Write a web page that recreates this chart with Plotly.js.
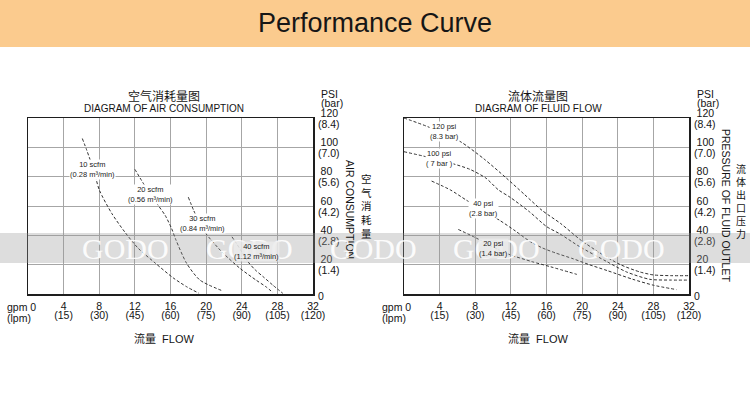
<!DOCTYPE html>
<html>
<head>
<meta charset="utf-8">
<script src="https://cdn.plot.ly/plotly-3.0.1.min.js"></script>
<style>
html,body{margin:0;padding:0;background:#fff}
#chart{width:750px;height:400px}
</style>
</head>
<body>
<div id="chart"></div>
<script>
// ---------- data ----------
const gpmTicks = [0, 4, 8, 12, 16, 20, 24, 28, 32];
const lpmTicks = [0, 15, 30, 45, 60, 75, 90, 105, 120];
const psiTicks = [0, 20, 40, 60, 80, 100, 120];
const barTicks = ["0", "1.4", "2.8", "4.2", "5.6", "7.0", "8.4"];

// Air consumption curves (x: gpm, y: psi)
const air10X = [6.1, 6.6, 7.4, 8.0, 9.4, 10.9, 12.4, 14.3, 16.3, 17.8, 19.2];
const air10Y = [106, 98, 84, 71, 55, 42, 31, 21, 11, 5, 0.5];
const air20X = [12.0, 13.1, 14.0, 14.6, 15.4, 16.1, 16.6, 17.8, 19.3, 21.9];
const air20Y = [85, 74, 66, 60.6, 53.6, 45, 37, 21, 9.5, 2];
const air30X = [18.0, 18.6, 19.3, 20.0, 21.8, 23.8, 25.6, 26.7, 27.5];
const air30Y = [66, 57, 48, 41, 28.5, 17.5, 9.5, 5, 1];
const air40X = [22.9, 23.4, 24.0, 24.7, 25.5, 26.4, 27.5, 28.6];
const air40Y = [39, 34.5, 28.8, 22, 16.5, 11.8, 6, 0.5];
const airNames = ["10 scfm", "20 scfm", "30 scfm", "40 scfm"];
const airSub = ["(0.28 m³/min)", "(0.56 m³/min)", "(0.84 m³/min)", "(1.12 m³/min)"];

// Fluid flow curves (x: gpm, y: psi outlet)
const f120X = [0, 2.7, 6.3, 9.0, 11.5, 13.5, 15.5, 17.6, 19.8, 22.0, 24.3, 26.5, 28.0, 30.0, 32.0];
const f120Y = [120, 114, 104, 92, 79, 68, 57, 48, 37, 28, 20, 15, 13, 12.5, 12.5];
const f100X = [0, 2.2, 5.4, 7.4, 9.2, 10.6, 11.9, 14.1, 16.0, 17.5, 19.8, 22.8, 25.0, 27.6, 30.0, 32.0];
const f100Y = [97, 94, 89, 85, 79, 71, 66, 56, 46, 41, 32, 22, 15, 10, 9.5, 9.5];
const f40X = [3.1, 5.2, 7.0, 8.9, 10.8, 12.5, 14.1, 15.5, 17.0, 19.0, 20.8, 22.8, 25.7, 28.0, 30.6];
const f40Y = [77, 71, 64, 57, 50, 43, 36, 31.5, 28, 24, 20, 16, 10, 6, 3];
const f20X = [6.1, 8.0, 10.0, 11.8, 14.4, 16.5, 19.4];
const f20Y = [44, 38.5, 32, 27, 22, 18.5, 13.4];
const fluidNames = ["120 psi", "100 psi", "40 psi", "20 psi"];
const fluidSub = ["(8.3 bar)", "( 7 bar )", "(2.8 bar)", "(1.4 bar)"];

// ---------- layout helpers ----------
const W = 750, H = 400;
const PX = x => x / W;
const PY = y => 1 - y / H;
const SANS = "Liberation Sans, Arial, sans-serif";
const CJK = "Noto Sans CJK SC, sans-serif";
const INK = "#141414";

const lineStyle = {color: "#303030", width: 1, dash: "3px,2px", shape: "spline", smoothing: 0.7};
function curve(x, y, xa, ya) {
  return {x, y, xaxis: xa, yaxis: ya, type: "scatter", mode: "lines", line: lineStyle, hoverinfo: "skip", showlegend: false};
}
function empty(xa, ya) {
  return {x: [], y: [], xaxis: xa, yaxis: ya, type: "scatter", mode: "lines", showlegend: false, hoverinfo: "skip"};
}

const traces = [
  curve(air10X, air10Y, "x", "y"),
  curve(air20X, air20Y, "x", "y"),
  curve(air30X, air30Y, "x", "y"),
  curve(air40X, air40Y, "x", "y"),
  curve(f120X, f120Y, "x2", "y2"),
  curve(f100X, f100Y, "x2", "y2"),
  curve(f40X, f40Y, "x2", "y2"),
  curve(f20X, f20Y, "x2", "y2"),
  empty("x3", "y3"),
  empty("x4", "y4"),
  empty("x", "y5"),
  empty("x2", "y6")
];

const tickFont = {family: SANS, size: 10.5, color: INK};
const gridCol = "#a6a6a6";

// gpm row (main x axes)
function xAxis(domain, anchor) {
  return {
    domain, anchor, range: [0, 32], tickmode: "array", tickvals: gpmTicks.slice(1), ticktext: gpmTicks.slice(1).map(String),
    showgrid: true, gridcolor: gridCol, gridwidth: 1, showline: true, mirror: true,
    linecolor: "#1e1e1e", linewidth: 1.5, zeroline: false, ticks: "", ticklabelstandoff: 2,
    tickfont: tickFont, fixedrange: true
  };
}
// lpm row (overlay x axes)
function xAxisLpm(domain, anchor, over) {
  return {
    domain, anchor, overlaying: over, range: [0, 32], tickmode: "array", tickvals: gpmTicks.slice(1),
    ticktext: lpmTicks.slice(1).map(v => "(" + v + ")"),
    showgrid: false, showline: false, zeroline: false, ticks: "", ticklabelstandoff: 13,
    tickfont: tickFont, fixedrange: true
  };
}
// psi row (main y axes)
function yAxis(domain, anchor) {
  return {
    domain, anchor, side: "right", range: [0, 120], tickmode: "array", tickvals: psiTicks.slice(1),
    ticktext: psiTicks.slice(1).map(String),
    showgrid: true, gridcolor: gridCol, gridwidth: 1, showline: true, mirror: true,
    linecolor: "#1e1e1e", linewidth: 1.5, zeroline: false, ticks: "", ticklabelstandoff: 4, ticklabelshift: -5,
    tickfont: tickFont, fixedrange: true
  };
}
// bar row (overlay y axes)
function yAxisBar(domain, anchor, over) {
  return {
    domain, anchor, overlaying: over, side: "right", range: [0, 120], tickmode: "array", tickvals: psiTicks.slice(1),
    ticktext: barTicks.slice(1).map(b => "(" + b + ")"),
    showgrid: false, showline: false, zeroline: false, ticks: "", ticklabelstandoff: 4, ticklabelshift: 6,
    tickfont: tickFont, fixedrange: true
  };
}
// zero label (overlay y axes)
function yAxisZero(domain, anchor, over) {
  return {
    domain, anchor, overlaying: over, side: "right", range: [0, 120], tickmode: "array", tickvals: [psiTicks[0]],
    ticktext: [String(psiTicks[0])],
    showgrid: false, showline: false, zeroline: false, ticks: "", ticklabelstandoff: 4, ticklabelshift: 2,
    tickfont: tickFont, fixedrange: true
  };
}

const yDom = [PY(294), PY(118)];
const xDomL = [PX(28), PX(313)];
const xDomR = [PX(404), PX(689)];
const ann = [];
function paperText(text, x, y, size, opts) {
  ann.push(Object.assign({text, xref: "paper", yref: "paper", x: PX(x), y: PY(y), showarrow: false,
    xanchor: "center", yanchor: "middle", font: {family: SANS, size, color: INK}}, opts || {}));
}

// chart titles
paperText("空气消耗量图", 164, 95, 12, {font: {family: CJK, size: 12, color: INK}});
paperText("DIAGRAM OF AIR CONSUMPTION", 164, 109, 10);
paperText("流体流量图", 538, 95, 12, {font: {family: CJK, size: 12, color: INK}});
paperText("DIAGRAM OF FLUID FLOW", 538, 109, 10);
// unit headers
[319, 695].forEach(x => {
  paperText("PSI", x, 94, 10.5, {xanchor: "left"});
  paperText("(bar)", x, 103, 10.5, {xanchor: "left"});
});
// x axis zero labels
[5, 380].forEach(x => {
  paperText("gpm " + gpmTicks[0], x, 307, 10.5, {xanchor: "left"});
  paperText("(lpm)", x, 318, 10.5, {xanchor: "left"});
});
// side titles
paperText("AIR CONSUMPTION", 350, 209, 10.5, {textangle: 90});
paperText("空<br>气<br>消<br>耗<br>量", 366, 206, 10.5, {font: {family: CJK, size: 10.5, color: INK}});
paperText("PRESSURE OF FLUID OUTLET", 726, 205, 10.5, {textangle: 90});
paperText("流<br>体<br>出<br>口<br>压<br>力", 741, 201, 10, {font: {family: CJK, size: 10, color: INK}});
// flow titles
const flowFont = {family: "Liberation Sans, Noto Sans CJK SC, sans-serif", size: 11, color: INK};
paperText("流量  FLOW", 164, 338, 11, {font: flowFont});
paperText("流量  FLOW", 538, 338, 11, {font: flowFont});

// watermark text
[125, 249, 373, 497, 621].forEach(cx => {
  paperText("GODO", cx, 248, 30, {font: {family: "Liberation Serif, DejaVu Serif, serif", size: 30, color: "rgba(255,255,255,0.92)"}});
});

// curve labels
const airLabelAt = [[7.2, 85], [13.8, 67.5], [19.6, 48], [25.6, 28.8]];
const fluidLabelAt = [[4.5, 110.7], [4.0, 92.5], [8.9, 58.4], [10.1, 31]];
function curveLabel(name, sub, pos, xa, ya, inBand) {
  ann.push({text: name + "<br>" + sub, xref: xa, yref: ya, x: pos[0], y: pos[1], showarrow: false,
    xanchor: "center", yanchor: "middle", font: {family: SANS, size: 7.5, color: "#1a1a1a"},
    bgcolor: inBand ? "rgba(235,235,235,0.85)" : "#ffffff", borderpad: 0});
}
airNames.forEach((n, i) => curveLabel(n, airSub[i], airLabelAt[i], "x", "y", i === 3));
fluidNames.forEach((n, i) => curveLabel(n, fluidSub[i], fluidLabelAt[i], "x2", "y2", i === 3));

const layout = {
  width: W, height: H, margin: {l: 0, r: 0, t: 0, b: 0},
  paper_bgcolor: "#ffffff", plot_bgcolor: "#ffffff",
  title: {text: "Performance Curve", x: 0.5, xanchor: "center", y: PY(23), yanchor: "middle",
    font: {family: SANS, size: 27, color: "#161616"}},
  xaxis: xAxis(xDomL, "y"),
  yaxis: yAxis(yDom, "x"),
  xaxis2: xAxis(xDomR, "y2"),
  yaxis2: yAxis(yDom, "x2"),
  xaxis3: xAxisLpm(xDomL, "y", "x"),
  yaxis3: yAxisBar(yDom, "x", "y"),
  xaxis4: xAxisLpm(xDomR, "y2", "x2"),
  yaxis4: yAxisBar(yDom, "x2", "y2"),
  yaxis5: yAxisZero(yDom, "x", "y"),
  yaxis6: yAxisZero(yDom, "x2", "y2"),
  shapes: [
    {type: "rect", xref: "paper", yref: "paper", x0: 0, x1: 1, y0: PY(47), y1: 1,
      fillcolor: "#fbcb8e", line: {width: 0}, layer: "below"},
    {type: "rect", xref: "paper", yref: "paper", x0: 0, x1: 1, y0: PY(263), y1: PY(233),
      fillcolor: "rgba(150,150,150,0.32)", line: {width: 0}, layer: "above"}
  ],
  annotations: ann,
  showlegend: false
};

Plotly.newPlot("chart", traces, layout, {displayModeBar: false, staticPlot: true});
</script>
</body>
</html>
